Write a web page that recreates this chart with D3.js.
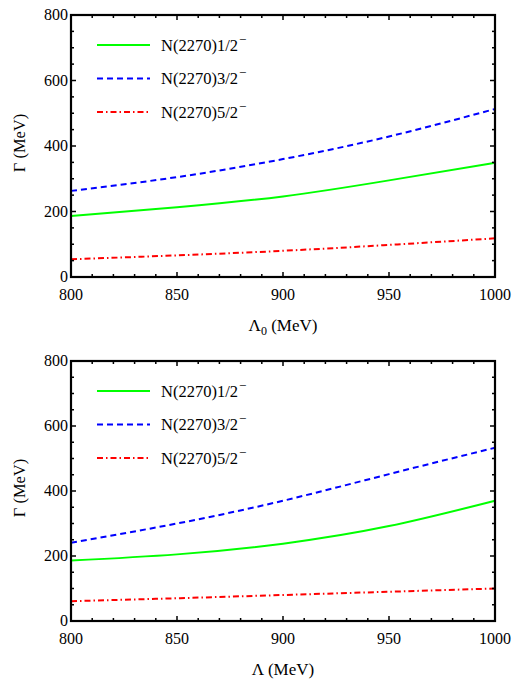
<!DOCTYPE html>
<html>
<head>
<meta charset="utf-8">
<script src="https://cdn.jsdelivr.net/npm/d3@7"></script>
<style>
  html, body { margin: 0; padding: 0; background: #fff; }
  svg { display: block; }
  text { font-family: "Liberation Serif", "DejaVu Serif", serif; fill: #000; }
</style>
</head>
<body>
<svg id="chart" width="515" height="679"></svg>
<script>
// Cutoff values (MeV) at which the widths are evaluated
const cutoff = [800, 850, 900, 950, 1000];

// Decay widths (MeV) versus Λ0
const widthHalfL0 = [186, 213, 246, 295, 349];
const widthThreeHalfL0 = [263, 305, 360, 429, 513];
const widthFiveHalfL0 = [54, 66, 80, 98, 118];

// Decay widths (MeV) versus Λ
const widthHalfL = [186, 205, 238, 292, 370];
const widthThreeHalfL = [241, 300, 370, 452, 533];
const widthFiveHalfL = [61, 70, 80, 90, 100];

const xTicks = [800, 850, 900, 950, 1000];
const yTicks = [0, 200, 400, 600, 800];

const seriesLabels = ["1/2", "3/2", "5/2"];
const seriesColors = ["#00ff00", "#0000ff", "#ff0000"];
const seriesDash = [null, "6,4", "6,3,1.5,3"];

const svg = d3.select("#chart");

function panel(top, bottom, values, xLabelMain, xLabelSub) {
  const left = 71, right = 495;
  const g = svg.append("g");
  const x = d3.scaleLinear().domain([800, 1000]).range([left, right]);
  const y = d3.scaleLinear().domain([0, 800]).range([bottom, top]);

  // Curves
  const line = d3.line()
    .x(d => x(d[0]))
    .y(d => y(d[1]))
    .curve(d3.curveNatural);

  values.forEach((vals, i) => {
    g.append("path")
      .datum(cutoff.map((c, k) => [c, vals[k]]))
      .attr("d", line)
      .attr("fill", "none")
      .attr("stroke", seriesColors[i])
      .attr("stroke-width", 2)
      .attr("stroke-dasharray", seriesDash[i]);
  });

  // Inward ticks on all four sides
  const xMinor = d3.range(800, 1001, 10);
  const yMinor = d3.range(0, 801, 50);
  const tickStyle = sel => sel.attr("stroke", "#000").attr("stroke-width", 1.5);

  xMinor.forEach(v => {
    const len = (v % 50 === 0) ? 5 : 3;
    tickStyle(g.append("line").attr("x1", x(v)).attr("x2", x(v)).attr("y1", bottom).attr("y2", bottom - len));
    tickStyle(g.append("line").attr("x1", x(v)).attr("x2", x(v)).attr("y1", top).attr("y2", top + len));
  });
  yMinor.forEach(v => {
    const len = (v % 200 === 0) ? 5 : 3;
    tickStyle(g.append("line").attr("y1", y(v)).attr("y2", y(v)).attr("x1", left).attr("x2", left + len));
    tickStyle(g.append("line").attr("y1", y(v)).attr("y2", y(v)).attr("x1", right).attr("x2", right - len));
  });

  // Frame
  g.append("rect")
    .attr("x", left).attr("y", top)
    .attr("width", right - left).attr("height", bottom - top)
    .attr("fill", "none").attr("stroke", "#000").attr("stroke-width", 2.2);

  // Tick labels
  xTicks.forEach(v => {
    g.append("text")
      .attr("x", x(v)).attr("y", bottom + 23)
      .attr("text-anchor", "middle")
      .attr("font-size", 16)
      .text(v);
  });
  yTicks.forEach(v => {
    g.append("text")
      .attr("x", left - 3).attr("y", y(v) + 5)
      .attr("text-anchor", "end")
      .attr("font-size", 16)
      .text(v);
  });

  // Axis titles
  const xt = g.append("text")
    .attr("x", (left + right) / 2).attr("y", bottom + 54)
    .attr("text-anchor", "middle")
    .attr("font-size", 17);
  xt.append("tspan").text(xLabelMain);
  if (xLabelSub) {
    xt.append("tspan").attr("dy", 4).attr("font-size", 12).text(xLabelSub);
    xt.append("tspan").attr("dy", -4).text(" (MeV)");
  } else {
    xt.append("tspan").text(" (MeV)");
  }

  g.append("text")
    .attr("transform", `translate(25,${(top + bottom) / 2 - 3}) rotate(-90)`)
    .attr("text-anchor", "middle")
    .attr("font-size", 16.5)
    .text("Γ (MeV)");

  // Legend
  const legY0 = top + 30, legStep = 33.5;
  seriesLabels.forEach((lab, i) => {
    const ly = legY0 + i * legStep;
    g.append("line")
      .attr("x1", 97).attr("x2", 150)
      .attr("y1", ly).attr("y2", ly)
      .attr("stroke", seriesColors[i])
      .attr("stroke-width", 2)
      .attr("stroke-dasharray", seriesDash[i]);
    const t = g.append("text")
      .attr("x", 161).attr("y", ly + 5.5)
      .attr("font-size", 16.5);
    t.append("tspan").text("N(2270)" + lab);
    t.append("tspan").attr("dx", 1).attr("dy", -7).attr("font-size", 13).text("−");
  });
}

panel(15, 277, [widthHalfL0, widthThreeHalfL0, widthFiveHalfL0], "Λ", "0");
panel(361, 621, [widthHalfL, widthThreeHalfL, widthFiveHalfL], "Λ", null);
</script>
</body>
</html>
